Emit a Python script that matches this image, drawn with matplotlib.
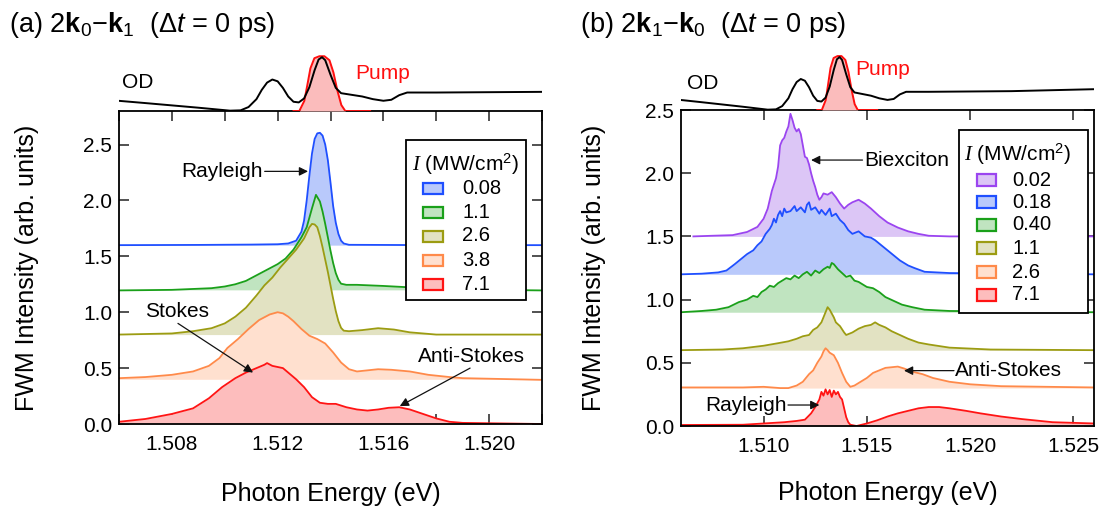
import matplotlib
matplotlib.use('Agg')
import matplotlib.pyplot as plt
from matplotlib.patches import Rectangle
from matplotlib.ticker import MultipleLocator, FormatStrFormatter

plt.rcParams['font.family'] = ['Liberation Sans', 'DejaVu Sans']
plt.rcParams['mathtext.fontset'] = 'custom'
plt.rcParams['mathtext.rm'] = 'Liberation Sans'
plt.rcParams['mathtext.it'] = 'Liberation Sans:italic'
plt.rcParams['mathtext.bf'] = 'Liberation Sans:bold'
plt.rcParams['mathtext.sf'] = 'Liberation Serif:italic'

# ---------------- OD and pump spectra (top panels) ----------------
E_od = [1.5060, 1.5070, 1.5080, 1.5090, 1.5098, 1.5102, 1.5106, 1.5109, 1.5112,
        1.5114, 1.5116, 1.5118, 1.5120, 1.5122, 1.5124, 1.5126, 1.5128, 1.5130,
        1.5132, 1.5134, 1.51355, 1.51368, 1.5138, 1.5140, 1.5142, 1.5144, 1.5148,
        1.5152, 1.5156, 1.5160, 1.5163, 1.5166, 1.5169, 1.5180, 1.5200, 1.5220, 1.5260]
OD = [0.154, 0.12, 0.085, 0.05, 0.02, 0.005, 0.01, 0.06, 0.18,
      0.32, 0.43, 0.477, 0.45, 0.35, 0.22, 0.14, 0.13, 0.19,
      0.36, 0.62, 0.78, 0.815, 0.77, 0.55, 0.35, 0.27, 0.245,
      0.22, 0.18, 0.155, 0.17, 0.24, 0.28, 0.28, 0.285, 0.29, 0.32]
E_pump = [1.5126, 1.51282, 1.51301, 1.51312, 1.51324, 1.51339, 1.51358, 1.51377,
          1.51396, 1.51411, 1.51426, 1.51441, 1.51456, 1.5155]
PUMP = [0.0, 0.0, 0.154, 0.385, 0.646, 0.80, 0.83, 0.83,
        0.77, 0.585, 0.31, 0.09, 0.0, 0.0]

# ---------------- panel (a): 2k0-k1 ----------------
a_labels = ['0.08', '1.1', '2.6', '3.8', '7.1']
a_offsets = [1.6, 1.2, 0.8, 0.4, 0.0]
a_E = [
    [1.506, 1.509, 1.511, 1.5120, 1.5124, 1.5127, 1.5129, 1.5130, 1.5131, 1.5132,
     1.5133, 1.5134, 1.5135, 1.5136, 1.5137, 1.5138, 1.5139, 1.5140, 1.5141, 1.5142,
     1.5143, 1.5144, 1.5145, 1.5147, 1.518, 1.522],
    [1.506, 1.508, 1.5095, 1.5100, 1.5104, 1.5108, 1.5112, 1.5116, 1.5120, 1.5123,
     1.5126, 1.5129, 1.5131, 1.5133, 1.51345, 1.5136, 1.5137, 1.5138, 1.5139, 1.5140,
     1.5141, 1.5142, 1.5143, 1.5144, 1.5146, 1.515, 1.516, 1.518, 1.520, 1.522],
    [1.506, 1.508, 1.5088, 1.5095, 1.5100, 1.5104, 1.5108, 1.5112, 1.5115, 1.5118,
     1.5121, 1.5124, 1.5127, 1.5130, 1.5132, 1.5133, 1.5134, 1.5135, 1.5136, 1.5137,
     1.5138, 1.5139, 1.5140, 1.5141, 1.5142, 1.5143, 1.5144, 1.5145, 1.5147, 1.5152,
     1.5158, 1.5164, 1.517, 1.518, 1.522],
    [1.506, 1.507, 1.508, 1.5088, 1.5094, 1.5098, 1.5101, 1.5105, 1.5109, 1.5113,
     1.5117, 1.5120, 1.5122, 1.5124, 1.5126, 1.5129, 1.5132, 1.5135, 1.5138, 1.5141,
     1.5144, 1.5147, 1.5150, 1.5154, 1.5158, 1.5163, 1.5170, 1.5177, 1.5185, 1.519, 1.522],
    [1.506, 1.507, 1.508, 1.5088, 1.5094, 1.5099, 1.5104, 1.5108, 1.5112, 1.5115,
     1.5116, 1.5118, 1.5120, 1.5122, 1.5124, 1.5127, 1.5130, 1.5133, 1.5136, 1.5139,
     1.5142, 1.5146, 1.5150, 1.5154, 1.5158, 1.5162, 1.5166, 1.5170, 1.5175, 1.5180,
     1.5185, 1.519, 1.522],
]
a_I = [
    [1.600, 1.602, 1.605, 1.608, 1.615, 1.64, 1.72, 1.82, 2.00, 2.22,
     2.42, 2.55, 2.60, 2.605, 2.58, 2.50, 2.36, 2.16, 1.95, 1.80,
     1.70, 1.64, 1.615, 1.603, 1.600, 1.600],
    [1.195, 1.20, 1.215, 1.23, 1.25, 1.28, 1.33, 1.38, 1.43, 1.48,
     1.56, 1.67, 1.76, 1.93, 2.05, 1.99, 1.90, 1.79, 1.67, 1.55,
     1.44, 1.35, 1.29, 1.255, 1.245, 1.245, 1.235, 1.21, 1.20, 1.195],
    [0.80, 0.81, 0.83, 0.857, 0.90, 0.96, 1.04, 1.15, 1.24, 1.31,
     1.40, 1.48, 1.56, 1.66, 1.76, 1.79, 1.785, 1.76, 1.68, 1.58,
     1.47, 1.36, 1.24, 1.12, 1.01, 0.92, 0.86, 0.835, 0.83, 0.84,
     0.857, 0.845, 0.82, 0.80, 0.80],
    [0.41, 0.42, 0.44, 0.47, 0.52, 0.59, 0.68, 0.76, 0.85, 0.93,
     0.98, 1.0, 0.99, 0.96, 0.92, 0.85, 0.79, 0.76, 0.72, 0.64,
     0.55, 0.49, 0.47, 0.48, 0.49, 0.485, 0.47, 0.44, 0.42, 0.41, 0.395],
    [0.02, 0.045, 0.09, 0.14, 0.23, 0.33, 0.41, 0.46, 0.50, 0.53,
     0.545, 0.52, 0.51, 0.50, 0.46, 0.40, 0.33, 0.24, 0.19, 0.18,
     0.18, 0.15, 0.13, 0.12, 0.13, 0.145, 0.15, 0.13, 0.09, 0.05,
     0.02, 0.01, 0.0],
]
a_lines = ['#1f4fff', '#1aa01a', '#9c9c12', '#ff8a4a', '#ff1414']
a_fills = ['#b9c9fb', '#c0e4c0', '#e2e2c2', '#ffe0cf', '#fdbdbd']

# ---------------- panel (b): 2k1-k0 ----------------
b_labels = ['0.02', '0.18', '0.40', '1.1', '2.6', '7.1']
b_offsets = [1.5, 1.2, 0.9, 0.6, 0.3, 0.0]
b_E = [
    [1.5066, 1.5075, 1.5085, 1.5092, 1.5097, 1.5100, 1.5102, 1.5104, 1.5106, 1.5107,
     1.5108, 1.5109, 1.5110, 1.5111, 1.5112, 1.5113, 1.5114, 1.5115, 1.5116, 1.5117,
     1.5118, 1.5119, 1.5120, 1.5121, 1.5122, 1.5123, 1.5124, 1.5125, 1.5126, 1.5127,
     1.5128, 1.5129, 1.5131, 1.5133, 1.5135, 1.5137, 1.5139, 1.5141, 1.5143, 1.5146,
     1.5149, 1.5152, 1.5156, 1.5160, 1.5165, 1.5170, 1.5175, 1.5180, 1.519, 1.526],
    [1.5060, 1.5070, 1.5078, 1.5082, 1.5086, 1.5089, 1.5092, 1.5095, 1.5097, 1.5099,
     1.5101, 1.5103, 1.5104, 1.5105, 1.5106, 1.5107, 1.5108, 1.5109, 1.5110, 1.5111,
     1.5113, 1.5115, 1.5116, 1.5118, 1.5120, 1.5121, 1.5122, 1.5123, 1.5125, 1.5127,
     1.5128, 1.5130, 1.5132, 1.5133, 1.5135, 1.5137, 1.5139, 1.5141, 1.5143, 1.5146,
     1.5149, 1.5152, 1.5154, 1.5157, 1.5160, 1.5163, 1.5166, 1.5170, 1.5173, 1.5178,
     1.519, 1.526],
    [1.5060, 1.5070, 1.5077, 1.5083, 1.5088, 1.5092, 1.5095, 1.5097, 1.5099, 1.5101,
     1.5103, 1.5105, 1.5107, 1.5109, 1.5111, 1.5113, 1.5115, 1.5117, 1.5119, 1.5121,
     1.5123, 1.5125, 1.5127, 1.5129, 1.5131, 1.5132, 1.5133, 1.5134, 1.5136, 1.5138,
     1.5140, 1.5142, 1.5144, 1.5146, 1.5148, 1.5150, 1.5153, 1.5156, 1.5159, 1.5163,
     1.5167, 1.5172, 1.5178, 1.519, 1.526],
    [1.5060, 1.5080, 1.5090, 1.5100, 1.5107, 1.5112, 1.5116, 1.5119, 1.5122, 1.5124,
     1.5126, 1.5128, 1.5129, 1.5130, 1.5131, 1.5132, 1.5133, 1.5134, 1.5135, 1.5137,
     1.5139, 1.5140, 1.5143, 1.5146, 1.5149, 1.5152, 1.5154, 1.5156, 1.5159, 1.5162,
     1.5166, 1.5170, 1.5175, 1.5180, 1.519, 1.521, 1.526],
    [1.5060, 1.5090, 1.5100, 1.5108, 1.5112, 1.5116, 1.5119, 1.5122, 1.5124, 1.5126,
     1.5128, 1.5129, 1.5130, 1.5131, 1.5132, 1.5134, 1.5136, 1.5138, 1.5140, 1.5142,
     1.5144, 1.5147, 1.5150, 1.5153, 1.5156, 1.5159, 1.5162, 1.5165, 1.5168, 1.5172,
     1.5177, 1.5182, 1.5190, 1.5200, 1.5215, 1.526],
    [1.5060, 1.5090, 1.5100, 1.5110, 1.5116, 1.5120, 1.5123, 1.5125, 1.5127, 1.5128,
     1.5129, 1.5130, 1.5131, 1.5132, 1.5133, 1.5134, 1.5135, 1.5136, 1.5137, 1.5138,
     1.5139, 1.5140, 1.5141, 1.5142, 1.5145, 1.5150, 1.5155, 1.5160, 1.5165, 1.5170,
     1.5175, 1.5180, 1.5185, 1.5190, 1.5198, 1.5205, 1.5215, 1.5225, 1.5240, 1.526],
]
b_I = [
    [1.50, 1.505, 1.51, 1.535, 1.575, 1.64, 1.72, 1.86, 1.96, 2.05,
     2.22, 2.26, 2.28, 2.33, 2.37, 2.47, 2.42, 2.36, 2.33, 2.35,
     2.31, 2.22, 2.13, 2.12, 2.07, 2.00, 1.94, 1.89, 1.83, 1.79,
     1.81, 1.84, 1.83, 1.85, 1.81, 1.76, 1.72, 1.75, 1.77, 1.79,
     1.76, 1.72, 1.66, 1.61, 1.57, 1.54, 1.52, 1.505, 1.50, 1.50],
    [1.20, 1.205, 1.215, 1.23, 1.28, 1.32, 1.36, 1.39, 1.43, 1.46,
     1.52, 1.56, 1.59, 1.64, 1.61, 1.67, 1.70, 1.66, 1.72, 1.69,
     1.70, 1.74, 1.70, 1.73, 1.69, 1.75, 1.77, 1.71, 1.73, 1.68,
     1.71, 1.67, 1.72, 1.66, 1.68, 1.63, 1.60, 1.55, 1.52, 1.54,
     1.50, 1.49, 1.47, 1.43, 1.39, 1.35, 1.31, 1.27, 1.25, 1.22,
     1.21, 1.20],
    [0.90, 0.91, 0.92, 0.94, 0.98, 1.00, 1.03, 1.02, 1.06, 1.08,
     1.11, 1.10, 1.13, 1.15, 1.17, 1.16, 1.19, 1.17, 1.20, 1.22,
     1.19, 1.23, 1.21, 1.24, 1.26, 1.25, 1.29, 1.28, 1.24, 1.21,
     1.18, 1.19, 1.15, 1.14, 1.12, 1.10, 1.09, 1.06, 1.02, 0.99,
     0.96, 0.94, 0.92, 0.91, 0.90],
    [0.60, 0.605, 0.615, 0.635, 0.655, 0.67, 0.69, 0.71, 0.72, 0.76,
     0.78, 0.82, 0.86, 0.90, 0.94, 0.92, 0.89, 0.86, 0.82, 0.79,
     0.74, 0.72, 0.74, 0.77, 0.79, 0.80, 0.82, 0.80, 0.78, 0.75,
     0.72, 0.69, 0.66, 0.645, 0.62, 0.605, 0.60],
    [0.305, 0.305, 0.31, 0.30, 0.30, 0.32, 0.35, 0.41, 0.44, 0.50,
     0.55, 0.59, 0.615, 0.60, 0.58, 0.56, 0.50, 0.42, 0.35, 0.31,
     0.32, 0.35, 0.38, 0.42, 0.44, 0.46, 0.465, 0.47, 0.455, 0.43,
     0.41, 0.38, 0.35, 0.33, 0.315, 0.305],
    [0.008, 0.01, 0.02, 0.03, 0.04, 0.05, 0.10, 0.15, 0.21, 0.27,
     0.24, 0.29, 0.25, 0.285, 0.23, 0.28, 0.25, 0.27, 0.23, 0.21,
     0.14, 0.07, 0.03, 0.01, 0.0, 0.02, 0.045, 0.075, 0.10, 0.12,
     0.14, 0.15, 0.15, 0.14, 0.12, 0.10, 0.075, 0.055, 0.03, 0.02],
]
b_lines = ['#9b45f0', '#1f4fff', '#1aa01a', '#9c9c12', '#ff8a4a', '#ff1414']
b_fills = ['#dcc6f6', '#b9c9fb', '#c0e4c0', '#e2e2c2', '#ffe0cf', '#fdbdbd']

LEGEND_TITLE = r'$\mathsf{I}$ (MW/cm$^2$)'

FS = 15
FL = 18
W, H = 1104, 507
fig = plt.figure(figsize=(W / 100, H / 100), dpi=100)


def fr(x0, y0, x1, y1):
    return [x0 / W, 1 - y1 / H, (x1 - x0) / W, (y1 - y0) / H]


def fx(x):
    return x / W


def fy(y):
    return 1 - y / H


def draw_legend(ax, box, title_pos, rows, hx, hh, tx, labels, lines, fills):
    x0, y0, x1, y1 = box
    ax.add_patch(Rectangle((fx(x0), fy(y1)), fx(x1) - fx(x0), fy(y0) - fy(y1),
                           transform=fig.transFigure, facecolor='white',
                           edgecolor='black', lw=1.3, zorder=30, clip_on=False))
    ax.text(fx(title_pos[0]), fy(title_pos[1]), LEGEND_TITLE, transform=fig.transFigure,
            fontsize=15, ha='left', va='center', zorder=31)
    for k, lab in enumerate(labels):
        yc = rows[k]
        ax.add_patch(Rectangle((fx(hx[0]), fy(yc + hh / 2)), fx(hx[1]) - fx(hx[0]),
                               fy(yc - hh / 2) - fy(yc + hh / 2),
                               transform=fig.transFigure, facecolor=fills[k],
                               edgecolor=lines[k], lw=1.6, zorder=31, clip_on=False))
        ax.text(fx(tx), fy(yc), lab, transform=fig.transFigure, fontsize=14.5,
                ha='left', va='center', zorder=31)


def panel(rect, od_rect, xlim, ylim, E, I, offs, lines, fills,
          major, minor, od_text, pump_text):
    ax = fig.add_axes(rect)
    for k in range(len(E)):
        z = 2 + k
        ax.fill_between(E[k], I[k], offs[k], color=fills[k], lw=0, zorder=z)
        ax.plot(E[k], I[k], color=lines[k], lw=1.3, zorder=z + 0.5)
    ax.set_xlim(*xlim)
    ax.set_ylim(*ylim)
    ax.xaxis.set_major_locator(MultipleLocator(major))
    if minor:
        ax.xaxis.set_minor_locator(MultipleLocator(minor))
    ax.xaxis.set_major_formatter(FormatStrFormatter('%.3f'))
    ax.yaxis.set_major_locator(MultipleLocator(0.5))
    ax.yaxis.set_major_formatter(FormatStrFormatter('%.1f'))
    ax.tick_params(which='both', direction='in', top=True, right=True,
                   length=7, width=1.1, labelsize=FS, color='#222222')
    ax.tick_params(axis='x', pad=8)
    ax.tick_params(axis='y', pad=5)
    for s in ax.spines.values():
        s.set_linewidth(1.3)
        s.set_zorder(20)
    ax.set_xlabel('Photon Energy (eV)', fontsize=FL)
    ax.set_ylabel('FWM Intensity (arb. units)', fontsize=FL)
    ax.xaxis.label.set_va('center')
    ax.yaxis.label.set_va('center')

    od = fig.add_axes(od_rect)
    od.fill_between(E_pump, PUMP, 0, color='#fbbcbc', lw=0)
    od.plot(E_pump, PUMP, color='#ff1010', lw=1.4)
    od.plot(E_od, OD, color='black', lw=1.4)
    od.set_xlim(*xlim)
    od.set_ylim(0, 1)
    od.axis('off')
    od.text(od_text[0], od_text[1], 'OD', fontsize=FS, ha='left', va='center')
    od.text(pump_text[0], pump_text[1], 'Pump', fontsize=FS, ha='left', va='center',
            color='#ff1010')
    return ax


def arrow(ax, tail, tip):
    ax.annotate('', xy=tip, xytext=tail, zorder=25,
                arrowprops=dict(arrowstyle='-|>', color='#111111', lw=0.9,
                                shrinkA=0, shrinkB=0, mutation_scale=13))


# panel (a)
axa = panel(fr(119, 111, 542, 424), fr(119, 45, 542, 111), (1.506, 1.522), (0, 2.8),
            a_E, a_I, a_offsets, a_lines, a_fills,
            0.004, 0.002, (1.50612, 0.43), (1.51492, 0.57))
axa.yaxis.set_label_coords(-0.2175, 0.5)
axa.xaxis.set_label_coords(0.5, -0.223)
draw_legend(axa, (406, 140, 526, 300), (412, 164), [188, 212, 236, 260, 284],
            (423, 443), 11, 462, a_labels, a_lines, a_fills)
axa.text(1.51145, 2.26, 'Rayleigh', fontsize=FS, ha='right', va='center', zorder=25)
arrow(axa, (1.51151, 2.26), (1.51315, 2.26))
axa.text(1.50819, 1.007, 'Stokes', fontsize=FS, ha='center', va='center', zorder=25)
arrow(axa, (1.50823, 0.90), (1.51107, 0.46))
axa.text(1.51934, 0.603, 'Anti-Stokes', fontsize=FS, ha='center', va='center', zorder=25)
arrow(axa, (1.51928, 0.50), (1.51662, 0.16))

# panel (b)
axb = panel(fr(681, 110, 1094, 426), fr(681, 45, 1094, 110), (1.506, 1.526), (0, 2.5),
            b_E, b_I, b_offsets, b_lines, b_fills,
            0.005, None, (1.5063, 0.415), (1.51446, 0.63))
axb.yaxis.set_label_coords(-0.2107, 0.5)
axb.xaxis.set_label_coords(0.5, -0.212)
draw_legend(axb, (959, 130, 1088, 313), (964, 154), [180, 202, 225, 248, 272, 295],
            (977, 996), 12, 1012, b_labels, b_lines, b_fills)
axb.text(1.51485, 2.104, 'Biexciton', fontsize=FS, ha='left', va='center', zorder=25)
arrow(axb, (1.51479, 2.104), (1.5123, 2.104))
axb.text(1.51928, 0.438, 'Anti-Stokes', fontsize=FS, ha='left', va='center', zorder=25)
arrow(axb, (1.51922, 0.438), (1.5168, 0.438))
axb.text(1.51112, 0.166, 'Rayleigh', fontsize=FS, ha='right', va='center', zorder=25)
arrow(axb, (1.51118, 0.166), (1.5127, 0.166))

# titles
fig.text(9 / W, 1 - 25 / H, r'(a) 2$\mathbf{k}_0$$-$$\mathbf{k}_1$  ($\Delta t$ = 0 ps)',
         fontsize=19.5, ha='left', va='center')
fig.text(580 / W, 1 - 25 / H, r'(b) 2$\mathbf{k}_1$$-$$\mathbf{k}_0$  ($\Delta t$ = 0 ps)',
         fontsize=19.5, ha='left', va='center')

fig.savefig('out.png', dpi=100)
